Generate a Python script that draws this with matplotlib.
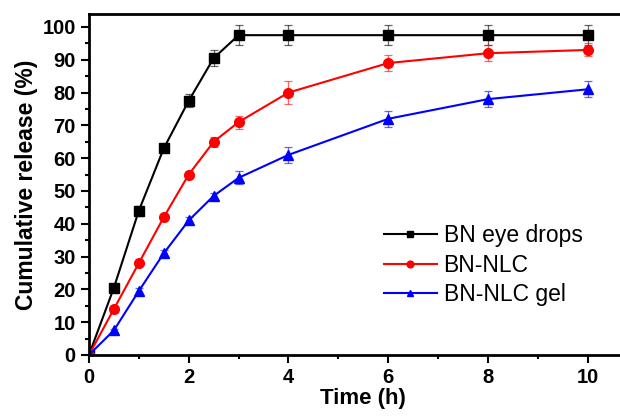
import matplotlib.pyplot as plt
from matplotlib.ticker import MultipleLocator

plt.rcParams['font.family'] = ['Liberation Sans', 'DejaVu Sans']

t = [0, 0.5, 1, 1.5, 2, 2.5, 3, 4, 6, 8, 10]
eye_drops = [0, 20.5, 44, 63, 77.5, 90.5, 97.5, 97.5, 97.5, 97.5, 97.5]
eye_drops_err = [0, 1, 1.5, 1, 2, 2.5, 3, 3, 3, 3, 3]
nlc = [0, 14, 28, 42, 55, 65, 71, 80, 89, 92, 93]
nlc_err = [0, 1, 1, 1, 1, 1.5, 2, 3.5, 2.5, 2.5, 2]
gel = [0, 7.5, 19.5, 31, 41, 48.5, 54, 61, 72, 78, 81]
gel_err = [0, 0.5, 1, 1, 1, 1, 2, 2.5, 2.5, 2.5, 2.5]

fig = plt.figure(figsize=(6.2, 4.2), dpi=100)
ax = fig.add_axes([0.1435, 0.155, 0.885, 0.812])

series = [
    (eye_drops, eye_drops_err, 'black', 's', 'BN eye drops'),
    (nlc, nlc_err, 'red', 'o', 'BN-NLC'),
    (gel, gel_err, 'blue', '^', 'BN-NLC gel'),
]
for y, err, c, m, lab in series:
    ax.errorbar(t, y, yerr=err, fmt='none', ecolor=c, alpha=0.6,
                elinewidth=0.9, capsize=3, capthick=0.9)
    ax.plot(t, y, color=c, marker=m, markersize=7, lw=1.5, label=lab)

ax.set_xlim(0, 11)
ax.set_ylim(0, 104)
ax.xaxis.set_major_locator(MultipleLocator(2))
ax.xaxis.set_minor_locator(MultipleLocator(1))
ax.yaxis.set_major_locator(MultipleLocator(10))
ax.yaxis.set_minor_locator(MultipleLocator(5))
ax.tick_params(which='major', direction='out', length=6, width=1.5, labelsize=14.5)
ax.tick_params(which='minor', direction='out', length=3, width=1.5)
for lbl in ax.get_xticklabels() + ax.get_yticklabels():
    lbl.set_fontweight('bold')
for s in ax.spines.values():
    s.set_linewidth(2)
ax.spines['right'].set_visible(False)

ax.set_xlabel('Time (h)', fontsize=16, fontweight='bold', labelpad=1)
ax.set_ylabel('Cumulative release (%)', fontsize=16.5, fontweight='bold', labelpad=3)

leg = ax.legend(loc='upper left', bbox_to_anchor=(0.5, 0.443), frameon=False,
                fontsize=16.5, handlelength=2.3, labelspacing=0.28,
                handletextpad=0.3, markerscale=0.7)

fig.savefig('out.png', dpi=100)
